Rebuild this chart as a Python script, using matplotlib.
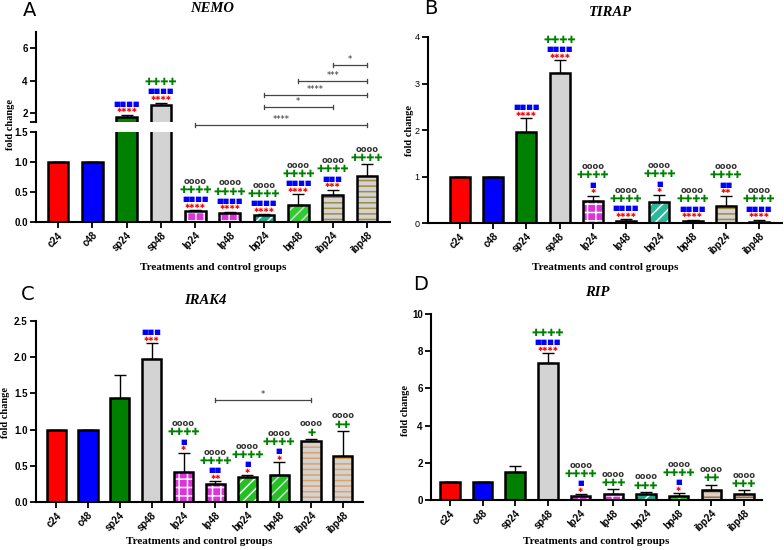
import matplotlib
matplotlib.use("Agg")
import matplotlib.pyplot as plt

W, H = 784, 550

groups = ['c24', 'c48', 'sp24', 'sp48', 'lp24', 'lp48', 'bp24', 'bp48', 'ibp24', 'ibp48']

# bar heights and upper error length
nemo_mean = [1.0, 1.0, 1.75, 2.5, 0.18, 0.15, 0.12, 0.29, 0.45, 0.77]
nemo_err = [0, 0, 0.15, 0.15, 0.02, 0.02, 0.01, 0.17, 0.09, 0.19]
tirap_mean = [1.0, 1.0, 1.96, 3.22, 0.48, 0.05, 0.45, 0.04, 0.36, 0.02]
tirap_err = [0, 0, 0.30, 0.28, 0.11, 0.03, 0.16, 0.03, 0.23, 0.05]
irak4_mean = [1.0, 1.0, 1.44, 1.97, 0.41, 0.245, 0.35, 0.37, 0.84, 0.63]
irak4_err = [0, 0, 0.31, 0.22, 0.27, 0.045, 0.02, 0.18, 0.03, 0.35]
rip_mean = [0.97, 0.97, 1.5, 7.35, 0.2, 0.32, 0.32, 0.23, 0.52, 0.32]
rip_err = [0, 0, 0.35, 0.55, 0.1, 0.25, 0.11, 0.13, 0.3, 0.2]

# significance symbols above bars: (red, blue, green, circle) counts
nemo_marks = [(0, 0, 0, 0), (0, 0, 0, 0), (4, 4, 0, 0), (4, 4, 4, 0), (4, 4, 4, 4),
              (4, 4, 4, 4), (4, 4, 4, 4), (4, 4, 4, 4), (3, 3, 4, 4), (0, 0, 4, 4)]
tirap_marks = [(0, 0, 0, 0), (0, 0, 0, 0), (4, 4, 0, 0), (4, 4, 4, 0), (1, 1, 4, 4),
               (4, 4, 4, 4), (1, 1, 4, 4), (4, 4, 4, 4), (2, 2, 4, 4), (4, 4, 4, 4)]
irak4_marks = [(0, 0, 0, 0), (0, 0, 0, 0), (0, 0, 0, 0), (3, 3, 0, 0), (1, 1, 4, 4),
               (2, 2, 4, 4), (1, 1, 4, 4), (1, 1, 4, 4), (0, 0, 1, 4), (0, 0, 2, 4)]
rip_marks = [(0, 0, 0, 0), (0, 0, 0, 0), (0, 0, 0, 0), (4, 4, 4, 0), (1, 1, 4, 4),
             (0, 0, 3, 4), (0, 0, 3, 4), (1, 1, 4, 4), (0, 0, 2, 4), (0, 0, 3, 4)]

# comparison brackets: (from, to, height, stars)
nemo_sig = [(4, 9, 1.27, '****'), (6, 8, 2.38, '*'), (6, 9, 3.12, '****'),
            (7, 9, 3.98, '***'), (8, 9, 4.97, '*')]
irak4_sig = [(5, 8, 1.41, '*')]

SERIF = 'Liberation Serif'
SANS = 'Liberation Sans'
plt.rcParams['hatch.linewidth'] = 1.1


def box(l, t, r, b):
    return [l / W, 1 - b / H, (r - l) / W, (b - t) / H]


def styles(bp24c, bp48c, ibpc):
    return [('#ff0000', None, None), ('#0000ff', None, None), ('#008000', None, None),
            ('#d3d3d3', None, None), ('#dd33dd', 'white', '++'), ('#dd33dd', 'white', '++'),
            (bp24c, 'white', '///'), (bp48c, '#d8d8d8', '///'),
            ('#d3d3d3', ibpc, '---'), ('#d3d3d3', ibpc, '---')]


def draw_bars(ax, mean, err, sty):
    x = range(len(mean))
    for i, (fc, hc, hat) in enumerate(sty):
        if hat:
            ax.bar(i, mean[i], width=0.6, color=fc, edgecolor=hc, hatch=hat, linewidth=0, zorder=2)
        else:
            ax.bar(i, mean[i], width=0.6, color=fc, linewidth=0, zorder=2)
    ax.bar(x, mean, width=0.6, fill=False, edgecolor='black', linewidth=1.8, zorder=3)
    ax.errorbar(x, mean, yerr=[[0] * len(err), err], fmt='none', ecolor='black',
                elinewidth=1, capsize=4, capthick=1, zorder=1)


def style_axis(ax, xlim, ylim, yticks, yfmt, tick_fs=7, bold=True):
    for s in ['top', 'right']:
        ax.spines[s].set_visible(False)
    for s in ['left', 'bottom']:
        ax.spines[s].set_linewidth(1.5)
    ax.set_xlim(*xlim)
    ax.set_ylim(*ylim)
    ax.set_yticks(yticks)
    ax.set_yticklabels([yfmt.format(v) for v in yticks], fontfamily=SANS,
                       fontweight='bold' if bold else 'normal', fontsize=tick_fs)
    ax.tick_params(direction='out', length=4, width=1.3, pad=2)


def xlabels(ax):
    ax.set_xticks(range(len(groups)))
    ax.set_xticklabels(groups, rotation=45, ha='right', rotation_mode='anchor',
                       fontfamily=SANS, fontweight='bold', fontsize=7)


# symbol rows: (glyph, colour, font size, weight, row step in pt)
SYMS = [('✱', '#ff0000', 4.5, 'normal', 4.8),
        ('■', '#0000ff', 5, 'normal', 5.2),
        ('✚', '#008000', 7, 'bold', 6.6),
        ('o', '#333333', 6, 'bold', 6)]


def add_marks(ax, mean, err, marks):
    for i, counts in enumerate(marks):
        off = 1.0
        for n, (ch, col, fs, fw, step) in zip(counts, SYMS):
            if n == 0:
                continue
            ax.annotate(ch * n, (i, mean[i] + err[i]), xytext=(0, off), textcoords='offset points',
                        ha='center', va='bottom', color=col, fontsize=fs, fontweight=fw,
                        fontfamily=['DejaVu Sans'], annotation_clip=False)
            off += step


def add_sig(ax, sig, cap):
    for a, b, y, stars in sig:
        ax.plot([a, b], [y, y], color='#444444', lw=0.9, clip_on=False)
        for xx in (a, b):
            ax.plot([xx, xx], [y - cap, y + cap], color='#444444', lw=0.9, clip_on=False)
        ax.annotate(stars, ((a + b) / 2, y), xytext=(0, 0.5), textcoords='offset points',
                    ha='center', va='bottom', fontsize=6, color='#333333', annotation_clip=False)


def labels(l, r, b_px, title, title_xy, letter, letter_xy, yl_xy):
    fig.text(title_xy[0] / W, 1 - title_xy[1] / H, title, ha='center', va='center',
             fontfamily=SERIF, fontweight='bold', fontstyle='italic', fontsize=10.5)
    fig.text(letter_xy[0] / W, 1 - letter_xy[1] / H, letter, ha='center', va='center',
             fontfamily='DejaVu Sans', fontsize=14)
    fig.text((l + r) / 2 / W, 1 - b_px / H, 'Treatments and control groups', ha='center',
             va='center', fontfamily=SERIF, fontweight='bold', fontsize=8)
    fig.text(yl_xy[0] / W, 1 - yl_xy[1] / H, 'fold change', ha='center', va='center', rotation=90,
             fontfamily=SERIF, fontweight='bold', fontsize=7.5)


fig = plt.figure(figsize=(W / 100, H / 100), dpi=100)

# ---- A: NEMO (broken axis)
sty_a = styles('#1fa88a', '#2ecc2e', '#a08c3c')
axA = fig.add_axes(box(36, 132, 390, 222))
axA_top = fig.add_axes(box(36, 32, 390, 122))
for ax in (axA, axA_top):
    draw_bars(ax, nemo_mean, nemo_err, sty_a)
style_axis(axA, (-0.64, 9.67), (0, 1.5), [0, 0.5, 1.0, 1.5], '{:.1f}')
xlabels(axA)
style_axis(axA_top, (-0.64, 9.67), (1.45, 7), [1.45, 2, 4, 6], '{:.0f}')
axA_top.set_yticklabels(['', '2', '4', '6'])
axA_top.spines['bottom'].set_visible(False)
axA_top.tick_params(axis='x', bottom=False, labelbottom=False)
lo_idx = [i for i in range(10) if nemo_mean[i] + nemo_err[i] < 1.5]
hi_idx = [i for i in range(10) if nemo_mean[i] + nemo_err[i] >= 1.5]
add_marks(axA, nemo_mean, nemo_err, [nemo_marks[i] if i in lo_idx else (0, 0, 0, 0) for i in range(10)])
add_marks(axA_top, nemo_mean, nemo_err, [nemo_marks[i] if i in hi_idx else (0, 0, 0, 0) for i in range(10)])
add_sig(axA_top, nemo_sig, 0.1)
labels(36, 390, 267, 'NEMO', (212, 8), 'A', (30, 11), (11, 125))

# ---- B: TIRAP
axB = fig.add_axes(box(428, 37, 782, 223))
draw_bars(axB, tirap_mean, tirap_err, styles('#2ab89a', '#2ecc2e', '#a08c3c'))
style_axis(axB, (-0.96, 9.69), (0, 4), [0, 1, 2, 3, 4], '{:.0f}', tick_fs=6.5, bold=False)
xlabels(axB)
add_marks(axB, tirap_mean, tirap_err, tirap_marks)
labels(428, 782, 267, 'TIRAP', (610, 13), 'B', (431, 9), (410, 130))

# ---- C: IRAK4
axC = fig.add_axes(box(36, 321, 363, 502))
draw_bars(axC, irak4_mean, irak4_err, styles('#22c022', '#22c022', '#e0a060'))
style_axis(axC, (-0.63, 9.63), (0, 2.5), [0, 0.5, 1.0, 1.5, 2.0, 2.5], '{:.1f}')
xlabels(axC)
add_marks(axC, irak4_mean, irak4_err, irak4_marks)
add_sig(axC, irak4_sig, 0.03)
labels(36, 363, 542, 'IRAK4', (205, 300), 'C', (28, 295), (6, 412))

# ---- D: RIP
axD = fig.add_axes(box(431, 314, 762, 500))
draw_bars(axD, rip_mean, rip_err, styles('#1fa88a', '#2ecc2e', '#b0692a'))
style_axis(axD, (-0.58, 9.55), (0, 10), [0, 2, 4, 6, 8, 10], '{:.0f}')
xlabels(axD)
add_marks(axD, rip_mean, rip_err, rip_marks)
labels(431, 762, 542, 'RIP', (597, 293), 'D', (421, 285), (405, 410))

fig.savefig('out.png', dpi=100)
